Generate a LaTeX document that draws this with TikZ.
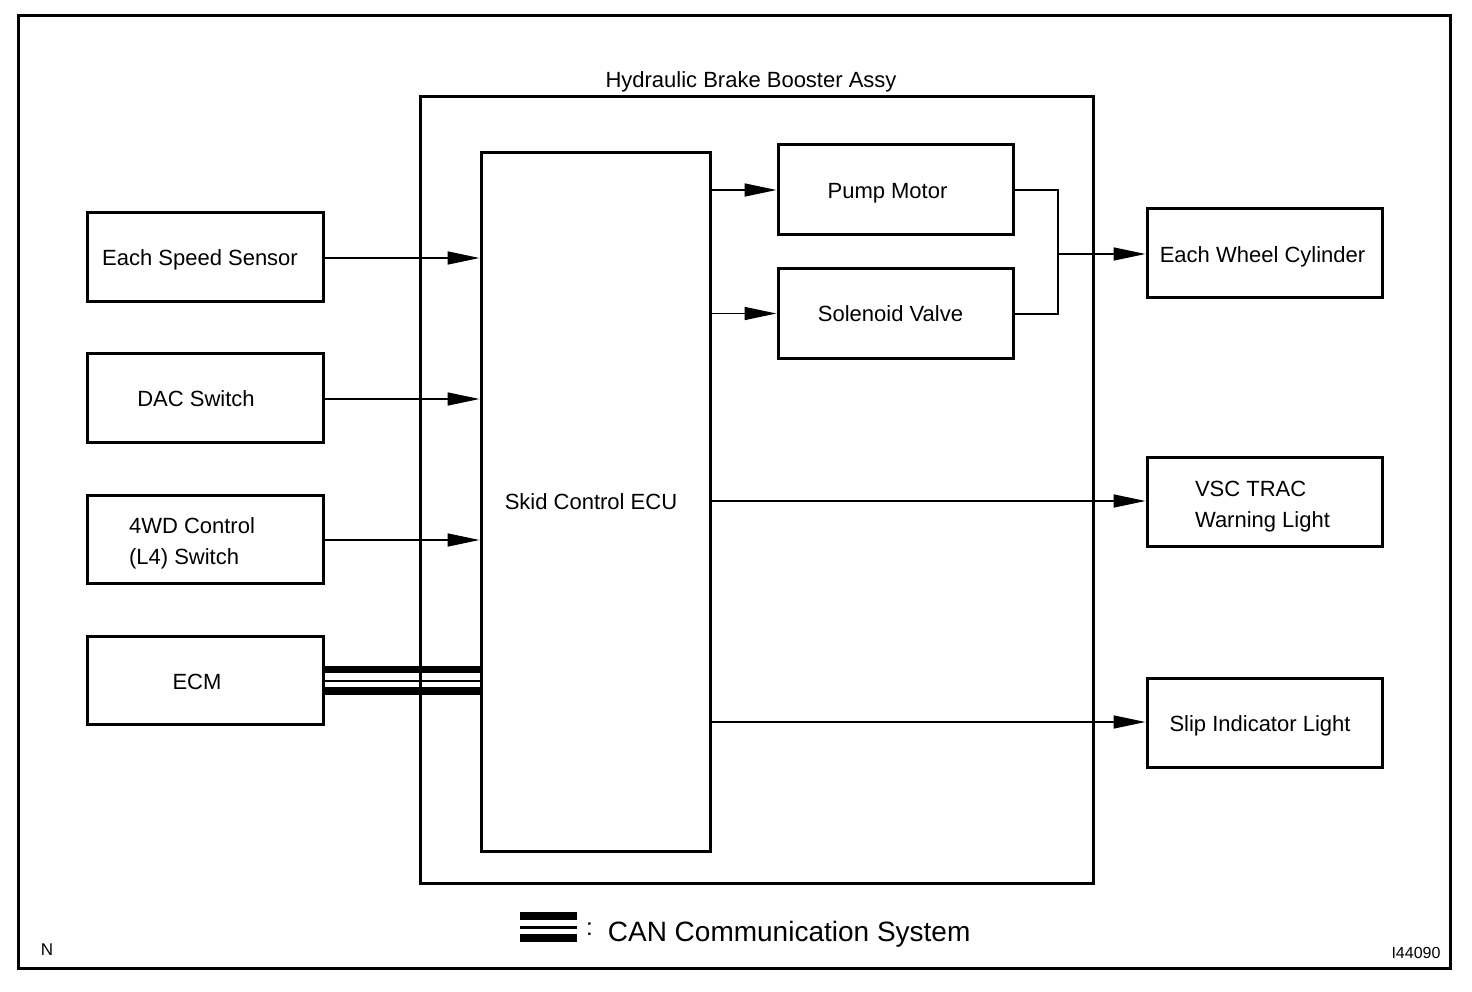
\documentclass[tikz,border=0pt]{standalone}
\usepackage{fontspec}
\setmainfont{Liberation Sans}
\usetikzlibrary{arrows.meta}
\begin{document}
\begin{tikzpicture}[x=1pt,y=-1pt,
  box/.style={draw,line width=3pt,inner sep=0pt,font=\fontsize{22}{31}\selectfont,align=left},
  onebox/.style={box,text depth=0pt},
  conn/.style={line width=1.6pt,-{Triangle[length=32pt,width=13pt]}},
  wire/.style={line width=1.6pt},
  canthick/.style={line width=7.5pt},
  canthin/.style={line width=2.5pt}]
\useasboundingbox (0,0) rectangle (1472,992);
\fill[white] (0,0) rectangle (1472,992);
% outer frame
\draw[line width=3pt] (18,16) rectangle (1450,968);
% booster assy
\node[draw,line width=3pt,minimum width=673pt,minimum height=786pt,inner sep=0pt] (booster) at (756.5,490) {};
\node[font=\fontsize{22}{26}\selectfont,anchor=base] (boostertitle) at (751,88) {Hydraulic Brake Booster Assy};
% ECU
\node[box,minimum width=229pt,minimum height=698pt] (ecu) at (595.5,502) {};
\node[font=\fontsize{22}{26}\selectfont,anchor=base] (ecutext) at (591,509) {Skid Control ECU};
% inner boxes
\node[onebox,minimum width=235pt,minimum height=90pt] (pump) at (895.5,190) {\hspace*{-16pt}\raisebox{-1pt}{Pump Motor}};
\node[onebox,minimum width=235pt,minimum height=89pt] (sol) at (895.5,313.5) {\hspace*{-10pt}\raisebox{-1pt}{Solenoid Valve}};
% left boxes
\node[onebox,minimum width=236pt,minimum height=89pt] (speed) at (205,257) {\hspace*{-10pt}\raisebox{-2pt}{Each Speed Sensor}};
\node[onebox,minimum width=236pt,minimum height=89pt] (dac) at (205,398) {\hspace*{-18pt}\raisebox{-1.5pt}{DAC Switch}};
\node[box,minimum width=236pt,minimum height=88pt] (wd) at (205,539.5) {\hspace*{-26pt}\raisebox{-3pt}[\height][\depth]{\begin{tabular}{@{}l@{}}4WD Control\\(L4) Switch\end{tabular}}};
\node[onebox,minimum width=236pt,minimum height=88pt] (ecm) at (205,680) {\hspace*{-16pt}\raisebox{-3pt}{ECM}};
% right boxes
\node[onebox,minimum width=235pt,minimum height=89pt] (wheel) at (1264.5,253.5) {\hspace*{-4pt}\raisebox{-2.5pt}{Each Wheel Cylinder}};
\node[box,minimum width=235pt,minimum height=89pt] (vsc) at (1264.5,501.5) {\hspace*{-4pt}\raisebox{-4.5pt}[\height][\depth]{\begin{tabular}{@{}l@{}}VSC TRAC\\Warning Light\end{tabular}}};
\node[onebox,minimum width=235pt,minimum height=89pt] (slip) at (1264.5,722.5) {\hspace*{-9pt}\raisebox{-2.5pt}{Slip Indicator Light}};
% inputs
\draw[conn] (speed.east |- 0,258) -- (ecu.west |- 0,258);
\draw[conn] (dac.east |- 0,399) -- (ecu.west |- 0,399);
\draw[conn] (wd.east |- 0,540) -- (ecu.west |- 0,540);
% CAN
\draw[canthick] (ecm.east |- 0,669.5) -- (ecu.west |- 0,669.5);
\draw[canthin] (ecm.east |- 0,681) -- (ecu.west |- 0,681);
\draw[canthick] (ecm.east |- 0,691) -- (ecu.west |- 0,691);
% ECU outputs
\draw[conn] (ecu.east |- pump.west) -- (pump.west);
\draw[conn] (ecu.east |- sol.west) -- (sol.west);
\coordinate (j) at (1058,254);
\draw[wire] (pump.east) -- (1058,190) -- (1058,314) -- (sol.east |- 0,314);
\draw[conn] (j) -- (wheel.west |- j);
\draw[conn] (ecu.east |- 0,501) -- (vsc.west |- 0,501);
\draw[conn] (ecu.east |- 0,722) -- (slip.west |- 0,722);
% legend
\coordinate (lg1) at (520,916);
\coordinate (lg2) at (577,916);
\draw[line width=8pt] (lg1) -- (lg2);
\draw[line width=3pt] (520,927.2) -- (577,927.2);
\draw[line width=8pt] (520,938.4) -- (577,938.4);
\node[font=\fontsize{28}{32}\selectfont,anchor=base west,inner sep=0pt] (legend) at (586,941) {\raisebox{6pt}{\fontsize{24}{28}\selectfont :}\hspace{15pt}CAN Communication System};
\node[font=\fontsize{17}{20}\selectfont] (n) at (47,950) {N};
\node[font=\fontsize{16}{20}\selectfont] (code) at (1416,953) {I44090};
\end{tikzpicture}
\end{document}
